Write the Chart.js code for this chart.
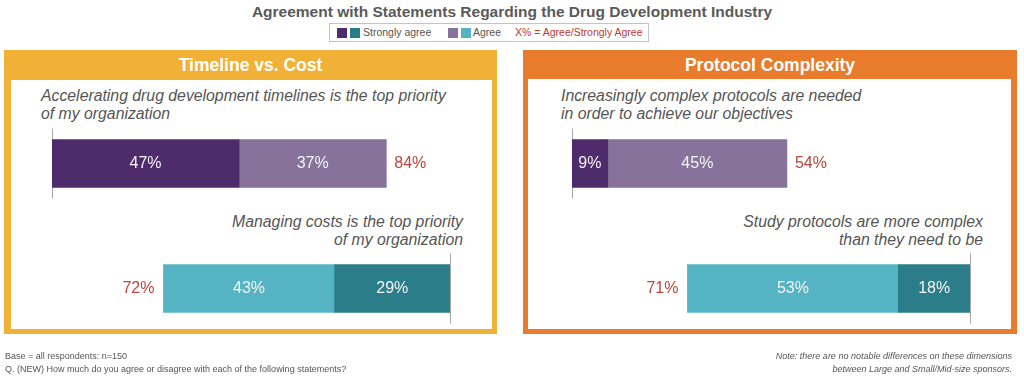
<!DOCTYPE html>
<html>
<head>
<meta charset="utf-8">
<script src="https://cdn.jsdelivr.net/npm/chart.js@4.4.0/dist/chart.umd.min.js"></script>
<style>
  body { margin: 0; width: 1024px; height: 379px; background: #fff; position: relative; overflow: hidden;
         font-family: "Liberation Sans", Arial, sans-serif; }
  .abs { position: absolute; }
  #title { left: 0; width: 1024px; top: 3px; text-align: center; font-weight: bold; font-size: 15.5px; color: #5a5a5a; }
  #legend { left: 329px; top: 23px; width: 320px; height: 19px; border: 1px solid #c4c4c4; box-sizing: border-box; font-size: 10.5px; color: #555; }
  .sw { position: absolute; top: 4px; width: 10px; height: 10px; }
  .lt { position: absolute; top: 2px; line-height: 13px; white-space: nowrap; }
  .panel { top: 50px; height: 284px; }
  .inner { position: absolute; background: #fff; }
  .head { position: absolute; left: 0; right: 0; top: 5px; text-align: center; color: #fff; font-weight: bold; font-size: 17.5px; }
  .stmt { font-style: italic; font-size: 15.8px; line-height: 18px; color: #555; white-space: nowrap; }
  .foot { font-size: 9px; line-height: 12.6px; color: #555; white-space: nowrap; }
  .wrap { top: 0; width: 512px; height: 379px; }
</style>
</head>
<body>
<div id="title" class="abs">Agreement with Statements Regarding the Drug Development Industry</div>
<div id="legend" class="abs">
  <div class="sw" style="left:7px;background:#4e2b6b"></div>
  <div class="sw" style="left:20px;background:#2a7d89"></div>
  <div class="lt" style="left:33px">Strongly agree</div>
  <div class="sw" style="left:118px;background:#86729b"></div>
  <div class="sw" style="left:131px;background:#55b4c4"></div>
  <div class="lt" style="left:143px">Agree</div>
  <div class="lt" style="left:185px;color:#c0392b">X% = Agree/Strongly Agree</div>
</div>

<div class="abs panel" style="left:4px;width:493px;background:#f0b136">
  <div class="head">Timeline vs. Cost</div>
  <div class="inner" style="left:7px;right:5px;top:30px;bottom:5px"></div>
</div>
<div class="abs panel" style="left:523px;width:494px;background:#e87b2c">
  <div class="head">Protocol Complexity</div>
  <div class="inner" style="left:5px;right:6px;top:29px;bottom:5px"></div>
</div>

<div class="abs stmt" style="left:41px;top:87px">Accelerating drug development timelines is the top priority<br>of my organization</div>
<div class="abs stmt" style="right:561px;top:213px;text-align:right">Managing costs is the top priority<br>of my organization</div>
<div class="abs stmt" style="left:561px;top:87px">Increasingly complex protocols are needed<br>in order to achieve our objectives</div>
<div class="abs stmt" style="right:41px;top:213px;text-align:right">Study protocols are more complex<br>than they need to be</div>

<div class="abs wrap" style="left:0"><canvas id="c0" width="512" height="379"></canvas></div>
<div class="abs wrap" style="left:512px"><canvas id="c1" width="512" height="379"></canvas></div>

<div class="abs foot" style="left:5px;top:350px">Base = all respondents: n=150<br>Q. (NEW) How much do you agree or disagree with each of the following statements?</div>
<div class="abs foot" style="right:12px;top:350px;text-align:right;font-style:italic">Note: there are no notable differences on these dimensions<br>between Large and Small/Mid-size sponsors.</div>

<script>
// values, one entry per panel: [top row, bottom row]
const stronglyAgree = [[47, 29], [9, 18]];
const agree = [[37, 43], [45, 53]];
const totals = [[84, 72], [54, 71]];

const darkColors = ['#4e2b6b', '#2a7d89'];
const lightColors = ['#86729b', '#55b4c4'];
const padLeft = [52, 60];

// top row starts at 0 and grows right, bottom row ends at 100 and grows left
function ranges(p) {
  const s = stronglyAgree[p], a = agree[p];
  return {
    strong: [[0, s[0]], [100 - s[1], 100]],
    agree: [[s[0], s[0] + a[0]], [100 - s[1] - a[1], 100 - s[1]]]
  };
}

const labelPlugin = {
  id: 'labels',
  beforeDatasetsDraw(chart) {
    const ctx = chart.ctx, x = chart.scales.x, y = chart.scales.y;
    ctx.save();
    ctx.strokeStyle = '#a8a8a8';
    ctx.lineWidth = 1;
    [0, 100].forEach((v, i) => {
      const px = Math.round(x.getPixelForValue(v)) + 0.5;
      const cy = y.getPixelForValue(i);
      ctx.beginPath();
      ctx.moveTo(px, cy - 35);
      ctx.lineTo(px, cy + 35);
      ctx.stroke();
    });
    ctx.restore();
  },
  afterDatasetsDraw(chart) {
    const ctx = chart.ctx, x = chart.scales.x;
    const p = chart.options.plugins.labels.panel;
    ctx.save();
    ctx.font = '16px "Liberation Sans", Arial, sans-serif';
    ctx.textBaseline = 'middle';
    chart.data.datasets.forEach((ds, di) => {
      chart.getDatasetMeta(di).data.forEach((bar, i) => {
        ctx.fillStyle = '#f4f4f4';
        ctx.textAlign = 'center';
        ctx.fillText(ds.segs[i] + '%', (bar.x + bar.base) / 2, bar.y);
      });
    });
    ctx.fillStyle = '#c0453a';
    const bars = chart.getDatasetMeta(0).data;
    ctx.textAlign = 'left';
    ctx.fillText(totals[p][0] + '%', x.getPixelForValue(totals[p][0]) + 8, bars[0].y);
    ctx.textAlign = 'right';
    ctx.fillText(totals[p][1] + '%', x.getPixelForValue(100 - totals[p][1]) - 9, bars[1].y);
    ctx.restore();
  }
};

[0, 1].forEach((p) => {
  const r = ranges(p);
  new Chart(document.getElementById('c' + p), {
    type: 'bar',
    data: {
      labels: ['top', 'bottom'],
      datasets: [
        { label: 'Strongly agree', data: r.strong, segs: stronglyAgree[p], backgroundColor: darkColors, barThickness: 48 },
        { label: 'Agree', data: r.agree, segs: agree[p], backgroundColor: lightColors, barThickness: 48 }
      ]
    },
    options: {
      indexAxis: 'y',
      responsive: false,
      animation: false,
      devicePixelRatio: 1,
      layout: { padding: { left: padLeft[p], right: 512 - padLeft[p] - 398, top: 101, bottom: 28 } },
      scales: {
        x: { min: 0, max: 100, display: false },
        y: { stacked: true, display: false }
      },
      plugins: {
        legend: { display: false },
        tooltip: { enabled: false },
        labels: { panel: p }
      }
    },
    plugins: [labelPlugin]
  });
});
</script>
</body>
</html>
